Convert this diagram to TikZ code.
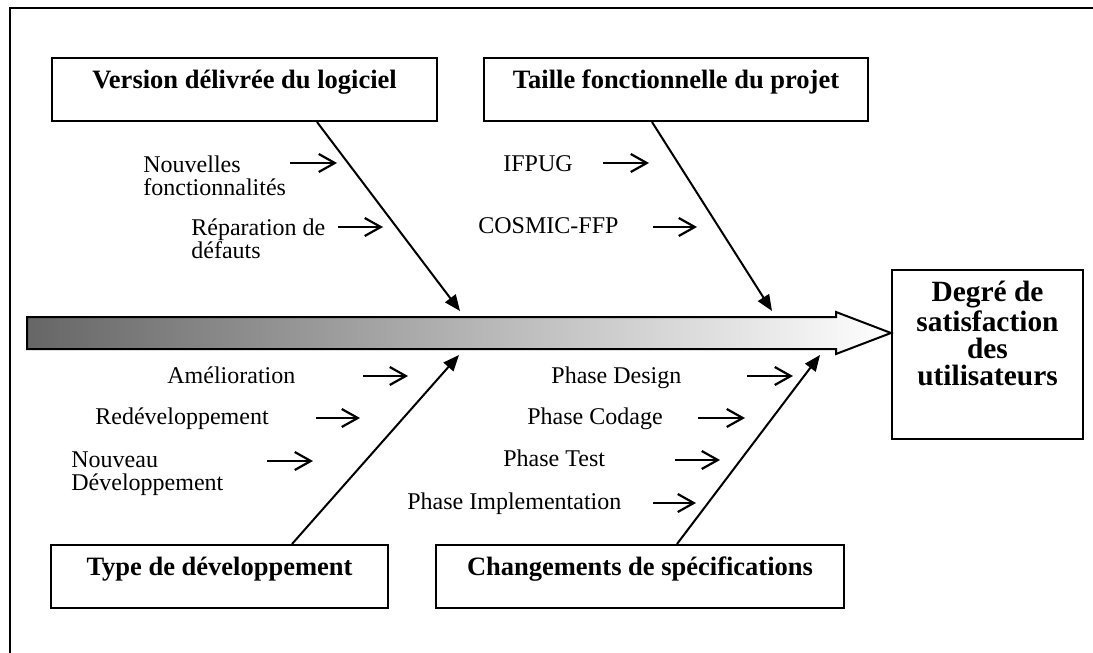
\documentclass[tikz,border=0pt]{standalone}
\usepackage{fontspec}
\setmainfont{Liberation Serif}
\usetikzlibrary{arrows.meta}

\tikzset{
  causebox/.style={draw, line width=1pt, inner sep=0pt, text height=15pt, text depth=16.5pt,
    font=\fontsize{13.25pt}{15pt}\selectfont\bfseries},
  effectbox/.style={draw, line width=1pt, minimum width=95.5pt, minimum height=84.5pt},
  effecttext/.style={align=center, inner sep=0pt, font=\fontsize{14.7pt}{13.5pt}\selectfont\bfseries},
  factor/.style={inner sep=0pt, align=left, font=\fontsize{12pt}{11.5pt}\selectfont},
  bone/.style={line width=1pt, -{Triangle[length=8pt,width=6.5pt]}},
  feed/.style={line width=1.1pt, -{Straight Barb[length=8pt,width=9pt]}},
}

\begin{document}
\begin{tikzpicture}[x=0.5pt,y=-0.5pt]
  \useasboundingbox (0,0) rectangle (1093,653);
  % cadre
  \draw[line width=1pt] (1093,8) -- (10,8) -- (10,653);

  % causes
  \node[causebox, minimum width=192.5pt] (vers) at (244.5,89.5) {Version délivrée du logiciel};
  \node[causebox, minimum width=192pt] (taille) at (676,89.5) {Taille fonctionnelle du projet};
  \node[causebox, minimum width=168.5pt] (type) at (219.5,576.5) {Type de développement};
  \node[causebox, minimum width=204pt] (chang) at (640,576.5) {Changements de spécifications};

  % effet
  \node[effectbox] (deg) at (987.5,354.5) {};
  \node[effecttext, anchor=north] (degtxt) at ([yshift=-6pt]deg.north) {Degré de\\satisfaction\\des\\utilisateurs};

  % arete centrale
  \coordinate (tip) at (deg.west |- 0,333);
  \draw[line width=1pt, left color=black!60, right color=white]
    (27,317) -- (836,317) -- (836,312) -- (tip) -- (836,354) -- (836,349) -- (27,349) -- cycle;

  % aretes
  \coordinate (vtip) at (460,311);
  \coordinate (ttip) at (772,311);
  \coordinate (dtip) at (459,355);
  \coordinate (ctip) at (820,355);
  \draw[bone] ([xshift=36.25pt]vers.south) -- (vtip);
  \draw[bone] ([xshift=-12pt]taille.south) -- (ttip);
  \draw[bone] ([xshift=36.25pt]type.north) -- (dtip);
  \draw[bone] ([xshift=18.5pt]chang.north) -- (ctip);

  % facteurs
  \node[factor, anchor=north west] (nouv) at (143,155) {Nouvelles\\fonctionnalités};
  \node[factor, anchor=north west] (repar) at (191,218) {Réparation de\\défauts};
  \node[factor, anchor=base west] (ifpug) at (503,171) {IFPUG};
  \node[factor, anchor=base west] (cosmic) at (478,233) {COSMIC-FFP};
  \node[factor, anchor=base west] (amel) at (167,383) {Amélioration};
  \node[factor, anchor=base west] (redev) at (95,424) {Redéveloppement};
  \node[factor, anchor=north west] (nouvdev) at (71,451) {Nouveau\\Développement};
  \node[factor, anchor=base west] (pdes) at (551,383) {Phase Design};
  \node[factor, anchor=base west] (pcod) at (527,424) {Phase Codage};
  \node[factor, anchor=base west] (ptest) at (503,466) {Phase Test};
  \node[factor, anchor=base west] (pimpl) at (407,509) {Phase Implementation};

  % petites fleches
  \coordinate (nouvA) at (337,163);
  \coordinate (reparA) at (383,227);
  \coordinate (ifpugA) at (649,163);
  \coordinate (cosmicA) at (697,227);
  \coordinate (amelA) at (408,376);
  \coordinate (redevA) at (360,418);
  \coordinate (nouvdevA) at (313,461);
  \coordinate (pdesA) at (793,376);
  \coordinate (pcodA) at (745,418);
  \coordinate (ptestA) at (720,460);
  \coordinate (pimplA) at (696,503);
  \draw[feed] (nouvA) ++(-47,0) -- (nouvA);
  \draw[feed] (reparA) ++(-45,0) -- (reparA);
  \draw[feed] (ifpugA) ++(-46,0) -- (ifpugA);
  \draw[feed] (cosmicA) ++(-44,0) -- (cosmicA);
  \draw[feed] (amelA) ++(-45,0) -- (amelA);
  \draw[feed] (redevA) ++(-44,0) -- (redevA);
  \draw[feed] (nouvdevA) ++(-46,0) -- (nouvdevA);
  \draw[feed] (pdesA) ++(-46,0) -- (pdesA);
  \draw[feed] (pcodA) ++(-47,0) -- (pcodA);
  \draw[feed] (ptestA) ++(-45,0) -- (ptestA);
  \draw[feed] (pimplA) ++(-43,0) -- (pimplA);
\end{tikzpicture}
\end{document}
